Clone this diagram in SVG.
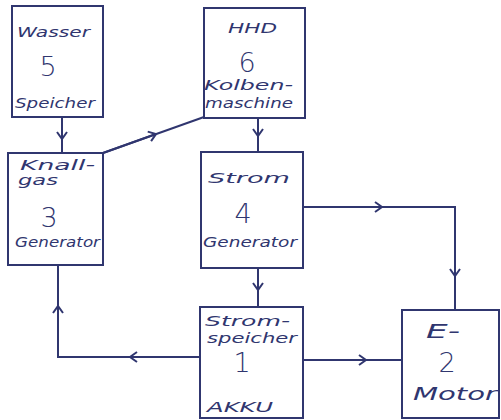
<svg xmlns="http://www.w3.org/2000/svg" width="501" height="420" viewBox="0 0 501 420">
<defs>
<marker id="chev" viewBox="0 0 12 12" refX="8" refY="6" markerWidth="12" markerHeight="12" markerUnits="userSpaceOnUse" orient="auto">
<path d="M1,1 L8,6 L1,11" fill="none" stroke="#30366f" stroke-width="2"/>
</marker>
<style>
.box{fill:#ffffff;stroke:#30366f;stroke-width:2}
.ln{fill:none;stroke:#30366f;stroke-width:2}
text{font-family:"DejaVu Sans","Liberation Sans",sans-serif;font-style:italic;fill:#30366f}
.s{font-size:14px}
.n{font-size:27px;font-style:normal;font-weight:300;text-anchor:middle}
</style>
</defs>
<rect width="501" height="420" fill="#ffffff"/>
<g id="connectors">
<path class="ln" d="M62,117 V153"/>
<path class="ln" d="M62,117 V139" marker-end="url(#chev)"/>
<path class="ln" d="M103,153 L204,117"/>
<path class="ln" d="M103,153 L156,134" marker-end="url(#chev)"/>
<path class="ln" d="M258,118 V152"/>
<path class="ln" d="M258,118 V136" marker-end="url(#chev)"/>
<path class="ln" d="M258,268 V307"/>
<path class="ln" d="M258,268 V290" marker-end="url(#chev)"/>
<path class="ln" d="M303,207 H455 V310"/>
<path class="ln" d="M303,207 H382" marker-end="url(#chev)"/>
<path class="ln" d="M455,207 V276" marker-end="url(#chev)"/>
<path class="ln" d="M303,360 H402"/>
<path class="ln" d="M303,360 H366" marker-end="url(#chev)"/>
<path class="ln" d="M200,357 H58 V265"/>
<path class="ln" d="M200,357 H130" marker-end="url(#chev)"/>
<path class="ln" d="M58,357 V306" marker-end="url(#chev)"/>
</g>
<g id="node5">
<rect class="box" x="12" y="6" width="91" height="111"/>
<text class="s" x="17" y="37" textLength="73" lengthAdjust="spacingAndGlyphs">Wasser</text>
<text class="n" x="48" y="76">5</text>
<text class="s" x="15" y="108" textLength="80" lengthAdjust="spacingAndGlyphs">Speicher</text>
</g>
<g id="node6">
<rect class="box" x="204" y="8" width="101" height="110"/>
<text class="s" x="228" y="33" textLength="49" lengthAdjust="spacingAndGlyphs">HHD</text>
<text class="n" x="247" y="72">6</text>
<text class="s" x="204" y="90" textLength="89" lengthAdjust="spacingAndGlyphs">Kolben-</text>
<text class="s" x="205" y="108" textLength="88" lengthAdjust="spacingAndGlyphs">maschine</text>
</g>
<g id="node3">
<rect class="box" x="8" y="153" width="95" height="112"/>
<text class="s" x="20" y="170" textLength="75" lengthAdjust="spacingAndGlyphs">Knall-</text>
<text class="s" x="18" y="185" textLength="40" lengthAdjust="spacingAndGlyphs">gas</text>
<text class="n" x="49" y="227">3</text>
<text class="s" x="15" y="247" textLength="85" lengthAdjust="spacingAndGlyphs">Generator</text>
</g>
<g id="node4">
<rect class="box" x="201" y="152" width="102" height="116"/>
<text class="s" x="208" y="183" textLength="82" lengthAdjust="spacingAndGlyphs">Strom</text>
<text class="n" x="243" y="223">4</text>
<text class="s" x="203" y="247" textLength="94" lengthAdjust="spacingAndGlyphs">Generator</text>
</g>
<g id="node1">
<rect class="box" x="200" y="307" width="103" height="111"/>
<text class="s" x="205" y="326" textLength="85" lengthAdjust="spacingAndGlyphs">Strom-</text>
<text class="s" x="207" y="343" textLength="90" lengthAdjust="spacingAndGlyphs">speicher</text>
<text class="n" x="242" y="372">1</text>
<text class="s" x="207" y="412" textLength="66" lengthAdjust="spacingAndGlyphs">AKKU</text>
</g>
<g id="node2">
<rect class="box" x="402" y="310" width="97" height="108"/>
<text class="s" x="426" y="338" font-size="20" textLength="34" lengthAdjust="spacingAndGlyphs" style="font-size:20px">E-</text>
<text class="n" x="447" y="372">2</text>
<text class="s" x="413" y="400" textLength="84" lengthAdjust="spacingAndGlyphs" style="font-size:17px">Motor</text>
</g>
</svg>
